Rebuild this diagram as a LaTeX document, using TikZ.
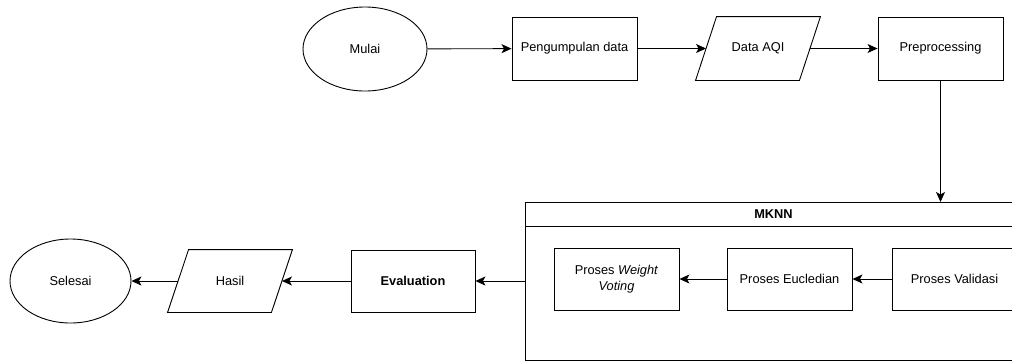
\documentclass[tikz,border=0pt]{standalone}
\usepackage{fontspec}
\setmainfont{Liberation Sans}
\usetikzlibrary{shapes.geometric,arrows.meta}

\begin{document}
\begin{tikzpicture}[x=1pt, y=-1pt, font=\fontsize{12.8}{16}\selectfont, line width=0.9pt,
    proses/.style={draw, rectangle, minimum width=125, minimum height=63, inner sep=2pt, align=center},
    data/.style={rectangle, minimum width=124, minimum height=63},
    terminal/.style={draw, ellipse, minimum width=124, minimum height=84},
    panah/.style={-{Stealth[length=10pt, width=9pt, inset=2.5pt]}}]
            \useasboundingbox (0,0) rectangle (1012,360);
            \clip (0,0) rectangle (1012,360);

            \node[terminal] (mulai) at (365, 49) {Mulai};
            \node[proses] (kumpul) at (574.5, 48.5) {Pengumpulan data};
            \node[data] (aqi) at (758, 48.5) {Data AQI};
            \node[proses] (pre) at (940.5, 48.5) {Preprocessing};

            \node[draw, minimum width=496, minimum height=158, anchor=north west] (mknn) at (525, 202) {};
            \node[draw, minimum width=496, minimum height=24, anchor=north, font=\fontsize{12.8}{16}\selectfont\bfseries] (mknnhead) at (mknn.north) {MKNN};
            \node[proses, minimum height=62] (wv) at (616.5, 279) {Proses \textit{Weight}\\\textit{Voting}};
            \node[proses, minimum height=62] (euc) at (789.5, 279) {Proses Eucledian};
            \node[proses, minimum height=62] (val) at (954.5, 279) {Proses Validasi};

            \node[proses, minimum width=124, minimum height=62, font=\fontsize{12.8}{16}\selectfont\bfseries] (eval) at (413, 281) {Evaluation};
            \node[data, minimum height=62] (hasil) at (230, 281) {Hasil};
            \node[terminal, minimum width=121] (selesai) at (70.5, 281) {Selesai};

            % jajar genjang untuk data
            \foreach \n in {aqi, hasil}
                \draw ([xshift=21]\n.north west) -- (\n.north east) -- ([xshift=-21]\n.south east) -- (\n.south west) -- cycle;

            \draw[panah] (mulai) -- (kumpul);
            \draw[panah] (kumpul) -- ([xshift=10.5]aqi.west);
            \draw[panah] ([xshift=-10.5]aqi.east) -- (pre);
            \draw[panah] (pre) -- (pre |- mknn.north);
            \draw[panah] (val) -- (euc);
            \draw[panah] (euc) -- (wv);
            \draw[panah] (mknn.west |- eval) -- (eval);
            \draw[panah] (eval) -- ([xshift=-10.5]hasil.east);
            \draw[panah] ([xshift=10.5]hasil.west) -- (selesai);
        \end{tikzpicture}
\end{document}
